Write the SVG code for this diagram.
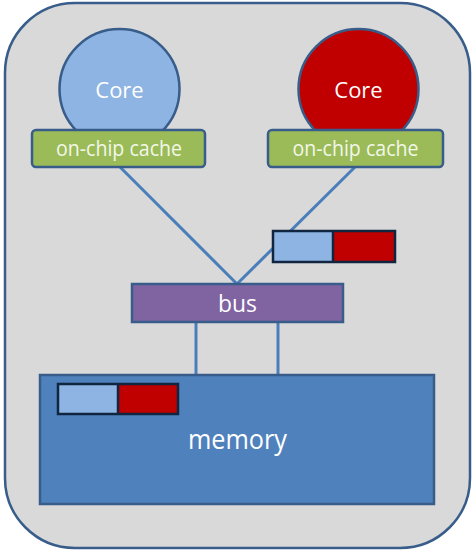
<svg xmlns="http://www.w3.org/2000/svg" width="476" height="554" viewBox="0 0 476 554">
<style>
.lbl{font-family:"Open Sans","Liberation Sans",sans-serif;fill:#ffffff;text-anchor:middle}
.cachelbl{font-family:"Open Sans","Liberation Sans",sans-serif;fill:#f2f7e8;text-anchor:middle;font-size:21px}
.cache{fill:#9bbb59;stroke:#385d8a;stroke-width:2.5}
.conn{stroke:#4a7ebb;stroke-width:3;fill:none}
.lb{fill:#8db4e2}
.rd{fill:#c00000}
.frame{fill:none;stroke:#10253f;stroke-width:2.5}
</style>
<rect x="0" y="0" width="476" height="554" fill="#ffffff"/>
<g id="chip">
<rect x="5" y="3" width="465" height="545" rx="70" ry="70" fill="#d9d9d9" stroke="#385d8a" stroke-width="2.5"/>
</g>
<g id="connectors">
<line class="conn" x1="120" y1="167" x2="237" y2="284"/>
<line class="conn" x1="355" y1="167" x2="237" y2="284"/>
<line class="conn" x1="196" y1="322" x2="196" y2="376"/>
<line class="conn" x1="278" y1="322" x2="278" y2="376"/>
</g>
<g id="core-left">
<circle cx="119.5" cy="89" r="60" fill="#8db4e2" stroke="#385d8a" stroke-width="2.5"/>
<text class="lbl" x="119.5" y="98" font-size="22">Core</text>
</g>
<g id="cache-left">
<rect class="cache" x="32" y="130" width="173" height="37" rx="4"/>
<text class="cachelbl" x="119" y="156" textLength="126" lengthAdjust="spacingAndGlyphs">on-chip cache</text>
</g>
<g id="core-right">
<circle cx="358.5" cy="89" r="60" fill="#c00000" stroke="#385d8a" stroke-width="2.5"/>
<text class="lbl" x="358.5" y="98" font-size="22">Core</text>
</g>
<g id="cache-right">
<rect class="cache" x="268" y="130" width="175" height="37" rx="4"/>
<text class="cachelbl" x="355.5" y="156" textLength="126" lengthAdjust="spacingAndGlyphs">on-chip cache</text>
</g>
<g id="data-in-flight">
<rect class="lb" x="273" y="231" width="60" height="31"/>
<rect class="rd" x="333" y="231" width="62" height="31"/>
<line x1="333" y1="231" x2="333" y2="262" stroke="#10253f" stroke-width="2.5"/>
<rect class="frame" x="273" y="231" width="122" height="31"/>
</g>
<g id="bus">
<rect x="132" y="284" width="211" height="38" fill="#8064a2" stroke="#385d8a" stroke-width="2.5"/>
<text class="lbl" x="237.5" y="312" font-size="24" textLength="39" lengthAdjust="spacingAndGlyphs">bus</text>
</g>
<g id="memory">
<rect x="40" y="375" width="394" height="129" fill="#4f81bd" stroke="#385d8a" stroke-width="2.5"/>
<text class="lbl" x="237.5" y="449" font-size="27" textLength="99" lengthAdjust="spacingAndGlyphs">memory</text>
</g>
<g id="data-in-memory">
<rect class="lb" x="58" y="384" width="60" height="30"/>
<rect class="rd" x="118" y="384" width="60" height="30"/>
<line x1="118" y1="384" x2="118" y2="414" stroke="#10253f" stroke-width="2.5"/>
<rect class="frame" x="58" y="384" width="120" height="30"/>
</g>
</svg>
